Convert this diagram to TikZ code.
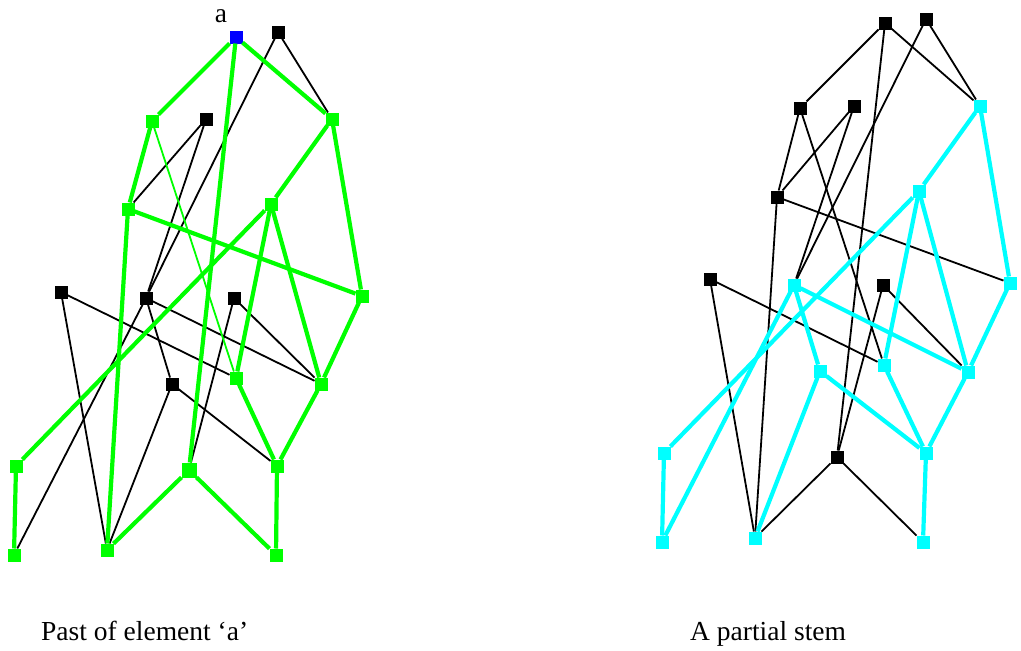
\documentclass[tikz,border=0pt]{standalone}
\usepackage{fontspec}
\setmainfont{Liberation Serif}
\definecolor{pgreen}{RGB}{0,255,0}
\definecolor{pcyan}{RGB}{0,255,255}
\definecolor{pblue}{RGB}{0,0,255}
\tikzset{
  vtx/.style={draw=none,fill=#1,minimum size=13pt,inner sep=0pt,outer sep=0pt,shape=rectangle},
  thinblk/.style={black,line width=1.8pt},
  thingrn/.style={pgreen,line width=1.8pt},
  thkgrn/.style={pgreen,line width=4.2pt},
  thkcyn/.style={pcyan,line width=4.2pt},
  lbl/.style={font=\fontsize{27.5}{31}\selectfont,inner sep=0pt,anchor=base west}
}
\begin{document}
\begin{tikzpicture}[x=1pt,y=-1pt]
\useasboundingbox (0,0) rectangle (1021,651);
% ---------- left graph nodes ----------
\node[vtx=pblue]  (lA) at (236,37) {};
\node[vtx=black]  (lB) at (278,32) {};
\node[vtx=pgreen] (lC) at (152,121) {};
\node[vtx=black]  (lD) at (206,119) {};
\node[vtx=pgreen] (lE) at (332,119) {};
\node[vtx=pgreen] (lF) at (128,209) {};
\node[vtx=pgreen] (lG) at (271,204) {};
\node[vtx=black]  (lH) at (61,292) {};
\node[vtx=black]  (lI) at (146,298) {};
\node[vtx=black]  (lJ) at (234,298) {};
\node[vtx=pgreen] (lK) at (362,296) {};
\node[vtx=pgreen] (lL) at (236,378) {};
\node[vtx=pgreen] (lM) at (321,384) {};
\node[vtx=black]  (lN) at (172,384) {};
\node[vtx=pgreen] (lO) at (16,466) {};
\node[vtx=pgreen,minimum size=15pt] (lP) at (189,470) {};
\node[vtx=pgreen] (lQ) at (277,466) {};
\node[vtx=pgreen] (lR) at (14,555) {};
\node[vtx=pgreen] (lS) at (107,550) {};
\node[vtx=pgreen] (lT) at (276,555) {};
\node[lbl,anchor=base] (la) at (221,22) {a};
% left edges
\draw[thinblk] (lB) -- (lE);
\draw[thinblk] (lB) -- (lI);
\draw[thinblk] (lD) -- (lF);
\draw[thinblk] (lD) -- (lI);
\draw[thinblk] (lH) -- (lS);
\draw[thinblk] (lH) -- (lL);
\draw[thinblk] (lI) -- (lM);
\draw[thinblk] (lI) -- (lR);
\draw[thinblk] (lI) -- (lN);
\draw[thinblk] (lN) -- (lS);
\draw[thinblk] (lN) -- (lQ);
\draw[thinblk] (lJ) -- (lP);
\draw[thinblk] (lJ) -- (lM);
\draw[thingrn] (lC) -- (lL);
\draw[thkgrn] (lA) -- (lC);
\draw[thkgrn] (lA) -- (lE);
\draw[thkgrn] (lA) -- (lP);
\draw[thkgrn] (lC) -- (lF);
\draw[thkgrn] (lE) -- (lG);
\draw[thkgrn] (lE) -- (lK);
\draw[thkgrn] (lF) -- (lK);
\draw[thkgrn] (lF) -- (lS);
\draw[thkgrn] (lG) -- (lO);
\draw[thkgrn] (lG) -- (lL);
\draw[thkgrn] (lG) -- (lM);
\draw[thkgrn] (lK) -- (lM);
\draw[thkgrn] (lL) -- (lQ);
\draw[thkgrn] (lM) -- (lQ);
\draw[thkgrn] (lO) -- (lR);
\draw[thkgrn] (lP) -- (lS);
\draw[thkgrn] (lP) -- (lT);
\draw[thkgrn] (lQ) -- (lT);
% ---------- right graph nodes ----------
\node[vtx=black] (rA) at (885,23) {};
\node[vtx=black] (rB) at (926,19) {};
\node[vtx=black] (rC) at (800,108) {};
\node[vtx=black] (rD) at (854,106) {};
\node[vtx=pcyan] (rE) at (980,106) {};
\node[vtx=black] (rF) at (777,197) {};
\node[vtx=pcyan] (rG) at (919,191) {};
\node[vtx=black] (rH) at (710,279) {};
\node[vtx=pcyan] (rI) at (794,285) {};
\node[vtx=black] (rJ) at (883,285) {};
\node[vtx=pcyan] (rK) at (1010,283) {};
\node[vtx=pcyan] (rL) at (884,365) {};
\node[vtx=pcyan] (rM) at (968,372) {};
\node[vtx=pcyan] (rN) at (820,371) {};
\node[vtx=pcyan] (rO) at (664,453) {};
\node[vtx=black] (rP) at (837,457) {};
\node[vtx=pcyan] (rQ) at (926,453) {};
\node[vtx=pcyan] (rR) at (662,542) {};
\node[vtx=pcyan] (rS) at (755,538) {};
\node[vtx=pcyan] (rT) at (923,542) {};
% right edges
\draw[thinblk] (rA) -- (rC);
\draw[thinblk] (rA) -- (rE);
\draw[thinblk] (rA) -- (rP);
\draw[thinblk] (rB) -- (rE);
\draw[thinblk] (rB) -- (rI);
\draw[thinblk] (rC) -- (rF);
\draw[thinblk] (rC) -- (rL);
\draw[thinblk] (rD) -- (rF);
\draw[thinblk] (rD) -- (rI);
\draw[thinblk] (rF) -- (rK);
\draw[thinblk] (rF) -- (rS);
\draw[thinblk] (rH) -- (rS);
\draw[thinblk] (rH) -- (rL);
\draw[thinblk] (rJ) -- (rP);
\draw[thinblk] (rJ) -- (rM);
\draw[thinblk] (rP) -- (rS);
\draw[thinblk] (rP) -- (rT);
\draw[thkcyn] (rE) -- (rG);
\draw[thkcyn] (rE) -- (rK);
\draw[thkcyn] (rG) -- (rO);
\draw[thkcyn] (rG) -- (rL);
\draw[thkcyn] (rG) -- (rM);
\draw[thkcyn] (rI) -- (rM);
\draw[thkcyn] (rI) -- (rR);
\draw[thkcyn] (rI) -- (rN);
\draw[thkcyn] (rK) -- (rM);
\draw[thkcyn] (rL) -- (rQ);
\draw[thkcyn] (rM) -- (rQ);
\draw[thkcyn] (rN) -- (rS);
\draw[thkcyn] (rN) -- (rQ);
\draw[thkcyn] (rO) -- (rR);
\draw[thkcyn] (rQ) -- (rT);
% captions
\node[lbl] (cap1) at (41,640) {Past of element ‘a’};
\node[lbl] (cap2) at (690,640) {A partial stem};
\end{tikzpicture}
\end{document}
